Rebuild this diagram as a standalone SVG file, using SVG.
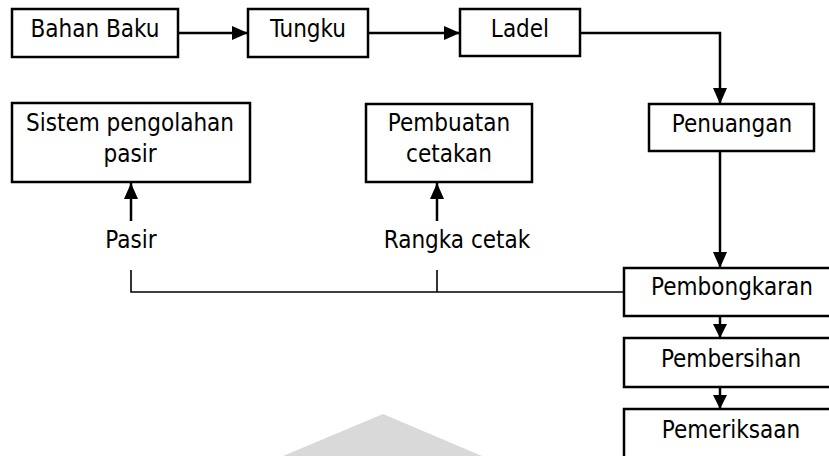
<svg xmlns="http://www.w3.org/2000/svg" width="829" height="456" viewBox="0 0 829 456">
<style>
.box{fill:#fff;stroke:#000;stroke-width:2.5}
.t{font-family:"DejaVu Sans Condensed","DejaVu Sans",sans-serif;font-size:24px;fill:#000;text-anchor:middle}
.c{fill:none;stroke:#000;stroke-width:2.5}
.thin{fill:none;stroke:#000;stroke-width:1.6}
</style>
<defs>
<marker id="ah" markerUnits="userSpaceOnUse" markerWidth="16" markerHeight="14" viewBox="0 0 16 14" refX="16" refY="7" orient="auto">
<path d="M0,0 L16,7 L0,14 Z" fill="#000"/>
</marker>
<marker id="ahs" markerUnits="userSpaceOnUse" markerWidth="14" markerHeight="14" viewBox="0 0 14 14" refX="14" refY="7" orient="auto">
<path d="M0,0 L14,7 L0,14 Z" fill="#000"/>
</marker>
</defs>
<rect width="829" height="456" fill="#fff"/>
<g id="watermark">
<polygon points="383,414 283,456 482,456" fill="#d9d9d9"/>
</g>
<g id="connectors">
<line class="c" x1="179" y1="33" x2="248" y2="33" marker-end="url(#ah)"/>
<line class="c" x1="368" y1="33" x2="460" y2="33" marker-end="url(#ah)"/>
<polyline class="c" points="580,33 720,33 720,104" marker-end="url(#ah)"/>
<line class="c" x1="720" y1="151" x2="720" y2="268" marker-end="url(#ah)"/>
<line class="c" x1="720" y1="316" x2="720" y2="338" marker-end="url(#ahs)"/>
<line class="c" x1="720" y1="387" x2="720" y2="409" marker-end="url(#ahs)"/>
<line class="c" x1="131" y1="221" x2="131" y2="183" marker-end="url(#ah)"/>
<line class="c" x1="437" y1="221" x2="437" y2="183" marker-end="url(#ah)"/>
<polyline class="thin" points="131,270 131,292 624,292"/>
<line class="thin" x1="437" y1="270" x2="437" y2="292"/>
</g>
<g id="bahan-baku"><rect class="box" x="12" y="9" width="166" height="48"/><text class="t" x="95" y="37">Bahan Baku</text></g>
<g id="tungku"><rect class="box" x="248" y="9" width="120" height="48"/><text class="t" x="308" y="37">Tungku</text></g>
<g id="ladel"><rect class="box" x="460" y="9" width="120" height="47"/><text class="t" x="520" y="37">Ladel</text></g>
<g id="penuangan"><rect class="box" x="649" y="104" width="165" height="47"/><text class="t" x="732" y="132">Penuangan</text></g>
<g id="sistem"><rect class="box" x="12" y="103" width="238" height="79"/><text class="t" x="130" y="131">Sistem pengolahan</text><text class="t" x="130" y="162">pasir</text></g>
<g id="pembuatan"><rect class="box" x="366" y="104" width="166" height="78"/><text class="t" x="449" y="131">Pembuatan</text><text class="t" x="449" y="162">cetakan</text></g>
<g id="pasir"><text class="t" x="131" y="248">Pasir</text></g>
<g id="rangka"><text class="t" x="457" y="248">Rangka cetak</text></g>
<g id="pembongkaran"><rect class="box" x="624" y="268" width="214" height="48"/><text class="t" x="732" y="295">Pembongkaran</text></g>
<g id="pembersihan"><rect class="box" x="624" y="338" width="214" height="49"/><text class="t" x="731" y="367">Pembersihan</text></g>
<g id="pemeriksaan"><rect class="box" x="624" y="409" width="214" height="60"/><text class="t" x="731" y="438">Pemeriksaan</text></g>
</svg>
